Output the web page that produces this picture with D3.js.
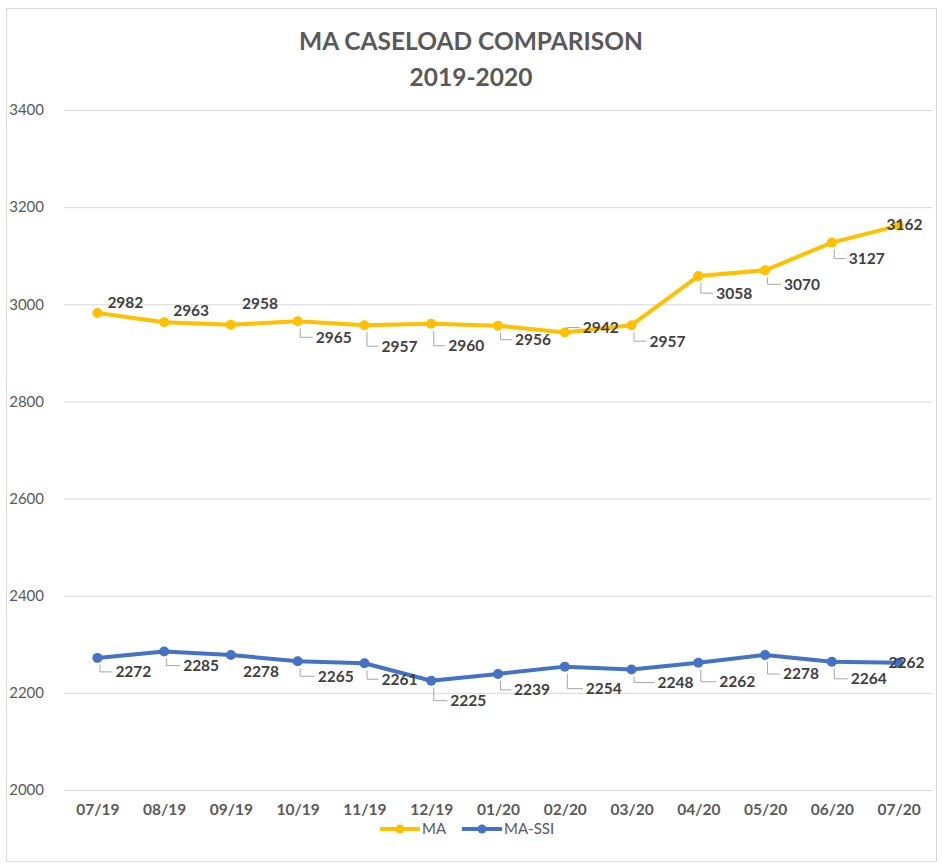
<html>
<head>
  <script src="https://d3js.org/d3.v7.min.js"></script>
  <style>
    body { margin: 0; background: white; }
    text { font-family: Lato, "Open Sans", sans-serif; }
    .gridlines .domain { stroke: none; }
    .gridlines line { stroke: #d9d9d9; }
    .y.axis .domain, .y.axis line, .x.axis .domain, .x.axis line { stroke: none; }
  </style>
</head>
<body>
  <svg id="chart" width="942" height="867"></svg>
  <script>
    // data
    const months = ["07/19","08/19","09/19","10/19","11/19","12/19","01/20","02/20","03/20","04/20","05/20","06/20","07/20"];
    const maValues = [2982, 2963, 2958, 2965, 2957, 2960, 2956, 2942, 2957, 3058, 3070, 3127, 3162];
    const ssiValues = [2272, 2285, 2278, 2265, 2261, 2225, 2239, 2254, 2248, 2262, 2278, 2264, 2262];
    const yTicks = [2000, 2200, 2400, 2600, 2800, 3000, 3200, 3400];

    // where each data label sits relative to its point [dx, dy, leader?]
    const maLabelPos = [[10,-10,0],[9,-12,0],[11,-21,0],[18,16,1],[17,21,1],[17,22,1],[17,14,1],[18,-5,1],[18,16,1],[18,17,1],[19,14,1],[17,16,1],[-12,-1,0]];
    const ssiLabelPos = [[18,14,1],[19,14,1],[12,17,0],[20,15,1],[17,16,1],[19,20,1],[16,16,1],[21,22,1],[26,13,1],[21,19,1],[18,19,1],[19,17,1],[-10,0,0]];

    const series = [
      {name: "MA", values: maValues, color: "#FFC000", labels: maLabelPos},
      {name: "MA-SSI", values: ssiValues, color: "#4472C4", labels: ssiLabelPos}
    ];

    const svg = d3.select("#chart");
    const margin = {top: 110, right: 10, bottom: 77, left: 64};
    const plotRight = 932;

    // outer frame
    svg.append("rect")
      .attr("x", 6.5).attr("y", 8.5)
      .attr("width", 930).attr("height", 853)
      .attr("fill", "white")
      .attr("stroke", "#d9d9d9");

    const x = d3.scalePoint().domain(months).range([margin.left, plotRight]).padding(0.5);
    const y = d3.scaleLinear().domain([2000, 3400]).range([790, margin.top]);

    // title
    svg.append("text")
      .attr("x", 471).attr("y", 50)
      .attr("text-anchor", "middle")
      .style("font-size", "24.5px").style("font-weight", "bold")
      .attr("fill", "#595959")
      .text("MA CASELOAD COMPARISON");
    svg.append("text")
      .attr("x", 471).attr("y", 86)
      .attr("text-anchor", "middle")
      .style("font-size", "24.5px").style("font-weight", "bold")
      .attr("fill", "#595959")
      .text("2019-2020");

    // gridlines
    svg.append("g")
      .attr("class", "gridlines")
      .attr("transform", `translate(${margin.left},0)`)
      .call(d3.axisLeft(y).tickValues(yTicks).tickSize(-(plotRight - margin.left)).tickFormat(""));

    // y axis labels
    const yAxis = svg.append("g")
      .attr("class", "y axis")
      .attr("transform", `translate(${margin.left - 20},0)`)
      .call(d3.axisLeft(y).tickValues(yTicks).tickSize(0).tickPadding(0).tickFormat(d3.format("d")));
    yAxis.selectAll("text")
      .style("font-size", "15px").attr("fill", "#595959")
      .style("font-family", "Lato, sans-serif");

    // x axis labels
    const xAxis = svg.append("g")
      .attr("class", "x axis")
      .attr("transform", `translate(0,804)`)
      .call(d3.axisBottom(x).tickSize(0).tickPadding(0));
    xAxis.selectAll("text")
      .style("font-size", "15.5px").style("font-weight", "bold")
      .attr("fill", "#595959")
      .style("font-family", "Lato, sans-serif");

    const lineGen = d3.line()
      .x((d, i) => x(months[i]))
      .y(d => y(d));

    series.forEach(s => {
      const g = svg.append("g").attr("class", "series");

      g.append("path")
        .attr("d", lineGen(s.values))
        .attr("fill", "none")
        .attr("stroke", s.color)
        .attr("stroke-width", 4)
        .attr("stroke-linejoin", "round");

      g.selectAll("circle").data(s.values)
        .join("circle")
        .attr("cx", (d, i) => x(months[i]))
        .attr("cy", d => y(d))
        .attr("r", 5)
        .attr("fill", s.color);

      // leader lines
      g.selectAll("path.leader").data(s.values)
        .join("path")
        .attr("class", "leader")
        .attr("fill", "none")
        .attr("stroke", "#a6a6a6")
        .attr("stroke-width", 1)
        .attr("d", (d, i) => {
          const p = s.labels[i];
          if (!p[2]) return null;
          const px = x(months[i]) + 2.5, py = y(d);
          const ly = py + p[1];
          const y0 = p[1] > 0 ? py + 7 : py - 3;
          return `M${px},${y0}V${ly}H${x(months[i]) + p[0] - 3}`;
        });

      g.selectAll("text.label").data(s.values)
        .join("text")
        .attr("class", "label")
        .attr("x", (d, i) => x(months[i]) + s.labels[i][0])
        .attr("y", (d, i) => y(d) + s.labels[i][1])
        .attr("dy", "0.35em")
        .style("font-size", "15.5px").style("font-weight", "bold")
        .attr("fill", "#404040")
        .text(d => d);
    });

    // legend
    const legend = svg.append("g").attr("transform", "translate(380,829)");
    const legendItems = [{s: series[0], x: 0}, {s: series[1], x: 82}];
    legendItems.forEach(it => {
      const lg = legend.append("g").attr("transform", `translate(${it.x},0)`);
      lg.append("line").attr("x1", 0).attr("x2", 40).attr("y1", 0).attr("y2", 0)
        .attr("stroke", it.s.color).attr("stroke-width", 4);
      lg.append("circle").attr("cx", 20).attr("cy", 0).attr("r", 4.5).attr("fill", it.s.color);
      lg.append("text").attr("x", 42).attr("y", 0).attr("dy", "0.35em")
        .style("font-size", "15px").attr("fill", "#595959")
        .text(it.s.name);
    });
  </script>
</body>
</html>
